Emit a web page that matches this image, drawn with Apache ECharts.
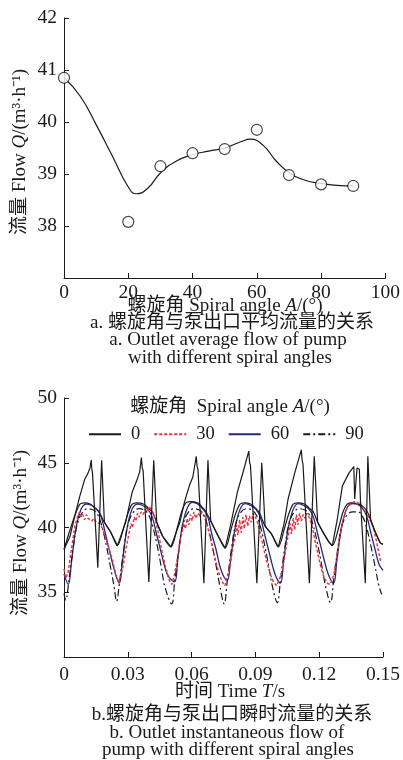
<!DOCTYPE html>
<html>
<head>
<meta charset="utf-8">
<script src="https://cdn.jsdelivr.net/npm/echarts@6/dist/echarts.min.js"></script>
<style>
  html, body { margin: 0; padding: 0; background: #fff; }
  #main { width: 403px; height: 760px; }
</style>
</head>
<body>
<div id="main"></div>
<script>
// (a) average outlet flow vs spiral angle
var spiralAngles = [0, 20, 30, 40, 50, 60, 70, 80, 90];
var avgFlow = [40.85, 38.08, 39.15, 39.4, 39.48, 39.85, 38.98, 38.8, 38.77];
// fitted curve
var fitAngles = [0, 5, 10, 15, 20, 22.5, 26, 30, 35, 40, 45, 50, 55, 58, 62, 66, 70, 75, 80, 85, 90];
var fitFlow = [40.85, 40.5, 39.95, 39.35, 38.75, 38.62, 38.72, 39.02, 39.25, 39.37, 39.44, 39.5, 39.62, 39.67, 39.55, 39.25, 39.03, 38.88, 38.82, 38.78, 38.77];

// (b) instantaneous outlet flow, [time s, flow m3/h]
var flow0 = [
  [0, 38.3], [0.0028, 39.3], [0.0051, 40.9], [0.0074, 42.4], [0.0097, 43.7], [0.0113, 44.2], [0.0122, 44.6], [0.0128, 45.2], [0.0131, 44.5], [0.0134, 44.2], [0.0159, 36.9], [0.0177, 45.2], [0.019, 40.4], [0.0221, 39.6], [0.0251, 38.6],
  [0.029, 40.4], [0.032, 42.7], [0.0344, 43.7], [0.0356, 44.3], [0.0364, 45.4], [0.0368, 44.6], [0.0372, 44.4], [0.0399, 35.8], [0.0422, 45.2], [0.0436, 40.4], [0.0465, 39.3], [0.0503, 38.5],
  [0.0545, 40.4], [0.0567, 42.0], [0.0591, 43.3], [0.0606, 43.9], [0.0622, 45.5], [0.0626, 44.7], [0.063, 44.5], [0.0658, 35.7], [0.0677, 45.2], [0.069, 40.5], [0.072, 39.5], [0.0758, 38.4],
  [0.0785, 40.3], [0.0815, 42.7], [0.0846, 44.5], [0.0869, 45.9], [0.0873, 45.0], [0.0877, 44.8], [0.0907, 35.7], [0.093, 45.0], [0.0946, 40.1], [0.0976, 39.5], [0.1008, 38.5],
  [0.1035, 40.3], [0.1054, 42.2], [0.1085, 44.2], [0.1116, 46.0], [0.112, 45.2], [0.1124, 44.9], [0.1154, 35.7], [0.1177, 45.5], [0.1193, 40.4], [0.1216, 39.7], [0.1245, 38.9], [0.1262, 38.6],
  [0.1285, 40.6], [0.1309, 43.2], [0.134, 44.2], [0.1363, 44.7], [0.1367, 42.2], [0.1378, 44.6], [0.1389, 44.5], [0.1394, 42.2], [0.1417, 35.7], [0.1429, 45.5], [0.1442, 40.6], [0.1465, 39.6], [0.1488, 38.8], [0.15, 38.7]
];
var flow0Upper = [
  [0, 38.3], [0.003, 39.9], [0.0055, 41.1], [0.0075, 41.8], [0.0095, 41.9], [0.0125, 41.8], [0.0145, 41.5], [0.0165, 41.2], [0.019, 40.4], [0.0221, 39.6], [0.0251, 38.6],
  [0.0281, 40.0], [0.0301, 41.1], [0.0321, 41.8], [0.0341, 41.9], [0.0376, 41.8], [0.0396, 41.5], [0.0416, 41.2], [0.0436, 40.4], [0.0465, 39.3], [0.0503, 38.5],
  [0.0533, 40.0], [0.0553, 41.2], [0.0573, 41.9], [0.0593, 42.0], [0.0628, 41.9], [0.0648, 41.6], [0.0668, 41.2], [0.069, 40.5], [0.072, 39.5], [0.0758, 38.4],
  [0.0788, 40.0], [0.0808, 41.1], [0.0828, 41.8], [0.0848, 41.9], [0.088, 41.8], [0.09, 41.5], [0.092, 41.1], [0.0946, 40.1], [0.0976, 39.5], [0.1008, 38.5],
  [0.1038, 40.0], [0.1058, 41.1], [0.1078, 41.8], [0.1098, 41.9], [0.1133, 41.8], [0.1153, 41.5], [0.1173, 41.2], [0.1193, 40.4], [0.1216, 39.7], [0.1245, 38.9], [0.1262, 38.6],
  [0.1292, 40.0], [0.1312, 41.2], [0.1332, 41.8], [0.1352, 41.9], [0.1387, 41.8], [0.1407, 41.6], [0.1427, 41.2], [0.1442, 40.6], [0.1465, 39.6], [0.1488, 38.8], [0.15, 38.7]
];
var flow30 = [
  [0, 36.8], [0.0008, 36.1], [0.0018, 36.4], [0.0032, 38.0], [0.0051, 40.1], [0.0066, 41.0], [0.0074, 41.2], [0.0082, 40.8], [0.0088, 41.0], [0.0097, 40.6], [0.0106, 41.0], [0.0113, 40.7], [0.0122, 40.8], [0.0131, 40.5], [0.014, 40.7], [0.0152, 40.4], [0.0167, 40.3], [0.0182, 39.9], [0.0198, 39.1], [0.0213, 38.3], [0.0228, 37.5], [0.0243, 36.4], [0.0258, 35.7],
  [0.0268, 36.3], [0.028, 37.2], [0.0292, 38.4], [0.0305, 39.5], [0.0315, 40.3], [0.0322, 40.0], [0.033, 40.8], [0.0338, 40.5], [0.0346, 41.1], [0.0354, 40.8], [0.0362, 41.2], [0.0372, 41.0], [0.0382, 41.4], [0.0392, 41.2], [0.0402, 41.6], [0.0412, 41.3], [0.0422, 41.0], [0.0434, 40.3], [0.0448, 39.2], [0.0463, 38.0], [0.0478, 36.9], [0.0493, 36.0], [0.0507, 35.6],
  [0.052, 36.4], [0.0532, 37.5], [0.0544, 38.8], [0.0556, 39.7], [0.0564, 40.3], [0.0571, 39.9], [0.0579, 40.7], [0.0587, 40.2], [0.0595, 41.0], [0.0603, 40.5], [0.0611, 41.2], [0.062, 40.7], [0.063, 41.1], [0.064, 40.9], [0.065, 41.2], [0.066, 40.8], [0.0672, 40.3], [0.0686, 39.3], [0.07, 38.3], [0.0715, 37.3], [0.073, 36.4], [0.0744, 35.8], [0.0756, 35.5],
  [0.077, 36.3], [0.0782, 37.2], [0.0795, 38.5], [0.0805, 39.3], [0.0812, 40.2], [0.0818, 39.4], [0.0826, 40.6], [0.0833, 39.6], [0.0841, 40.8], [0.0848, 39.9], [0.0856, 41.0], [0.0864, 40.1], [0.0872, 40.9], [0.0881, 40.4], [0.089, 41.1], [0.09, 40.8], [0.0912, 40.3], [0.0925, 39.4], [0.094, 38.3], [0.0955, 37.3], [0.097, 36.4], [0.0985, 35.8], [0.1, 35.5],
  [0.1022, 36.4], [0.1035, 37.5], [0.1047, 38.7], [0.1057, 39.6], [0.1064, 40.3], [0.107, 39.5], [0.1078, 40.7], [0.1085, 39.8], [0.1093, 41.0], [0.11, 40.2], [0.1108, 41.1], [0.1116, 40.5], [0.1125, 41.0], [0.1134, 40.7], [0.1143, 41.1], [0.1153, 40.8], [0.1165, 40.2], [0.1178, 39.2], [0.1192, 38.1], [0.1207, 37.0], [0.1222, 36.2], [0.1238, 35.7], [0.1252, 35.6],
  [0.1268, 36.3], [0.128, 37.4], [0.1293, 38.8], [0.1305, 40.0], [0.1317, 40.9], [0.1328, 41.4], [0.134, 41.7], [0.1352, 41.8], [0.1364, 42.0], [0.1376, 41.8], [0.1388, 42.0], [0.14, 41.7], [0.1412, 41.5], [0.1424, 41.1], [0.1438, 40.6], [0.1455, 40.0], [0.147, 38.9], [0.148, 38.1], [0.149, 37.3]
];
var flow60 = [
  [0, 36.4],
  [0.002, 35.6], [0.0035, 37.3], [0.0055, 39.8], [0.008, 41.4], [0.0105, 41.8], [0.013, 41.7], [0.0155, 41.4], [0.0175, 40.8], [0.0195, 39.5], [0.0215, 38.1], [0.0235, 36.8], [0.0248, 36.1],
  [0.026, 35.7], [0.0275, 37.4], [0.0295, 39.8], [0.032, 41.4], [0.0345, 41.8], [0.037, 41.7], [0.0395, 41.4], [0.0415, 40.8], [0.0435, 39.5], [0.0455, 38.2], [0.0475, 36.9], [0.0492, 36.2],
  [0.052, 35.8], [0.0535, 37.5], [0.0555, 40.0], [0.058, 41.5], [0.0605, 41.95], [0.063, 41.8], [0.0655, 41.4], [0.0675, 40.9], [0.0695, 39.5], [0.0715, 38.3], [0.0735, 36.9], [0.0752, 36.2],
  [0.0768, 35.9], [0.0783, 37.4], [0.0803, 39.8], [0.0828, 41.4], [0.0853, 41.85], [0.0878, 41.7], [0.0903, 41.4], [0.0923, 40.8], [0.0943, 39.5], [0.0963, 38.2], [0.0983, 36.9], [0.1, 36.1],
  [0.1018, 35.7], [0.1033, 37.4], [0.1053, 39.8], [0.1078, 41.4], [0.1103, 41.85], [0.1128, 41.7], [0.1153, 41.4], [0.1173, 40.8], [0.1193, 39.5], [0.1213, 38.2], [0.1233, 36.9], [0.125, 36.1],
  [0.1268, 35.7], [0.1283, 37.4], [0.1303, 39.8], [0.1328, 41.4], [0.1353, 41.85], [0.1378, 41.8], [0.1403, 41.5], [0.1423, 40.9], [0.1443, 39.6], [0.1463, 38.3], [0.1483, 37.1], [0.15, 36.7]
];
var flow90 = [
  [0, 34.9],
  [0.0008, 34.4], [0.0023, 35.9], [0.0043, 38.4], [0.0063, 40.3], [0.0088, 41.2], [0.0113, 41.45], [0.0138, 41.35], [0.0158, 41.0], [0.0178, 40.1], [0.0198, 38.7], [0.0218, 37.0], [0.0236, 35.4],
  [0.0247, 34.3], [0.0262, 35.9], [0.0282, 38.4], [0.0302, 40.3], [0.0327, 41.2], [0.0352, 41.45], [0.0377, 41.35], [0.0397, 41.0], [0.0417, 40.1], [0.0437, 38.7], [0.0457, 37.0], [0.0475, 35.4],
  [0.0506, 34.1], [0.0521, 35.9], [0.0541, 38.4], [0.0561, 40.3], [0.0586, 41.2], [0.0611, 41.45], [0.0636, 41.35], [0.0656, 41.0], [0.0676, 40.1], [0.0696, 38.7], [0.0716, 37.0], [0.0734, 35.4],
  [0.0753, 34.1], [0.0768, 35.9], [0.0788, 38.4], [0.0808, 40.3], [0.0833, 41.2], [0.0858, 41.45], [0.0883, 41.35], [0.0903, 41.0], [0.0923, 40.1], [0.0943, 38.7], [0.0963, 37.0], [0.0981, 35.4],
  [0.1003, 34.2], [0.1018, 35.9], [0.1038, 38.4], [0.1058, 40.3], [0.1083, 41.2], [0.1108, 41.45], [0.1133, 41.35], [0.1153, 41.0], [0.1173, 40.1], [0.1193, 38.7], [0.1213, 37.0], [0.1231, 35.4],
  [0.1253, 34.2], [0.1268, 35.9], [0.1288, 38.4], [0.1308, 40.2], [0.1333, 41.0], [0.1358, 41.2], [0.1383, 41.2], [0.1403, 40.9], [0.1423, 40.0], [0.1443, 38.6], [0.1463, 37.0], [0.1481, 35.5], [0.1494, 34.85]
];

var serif = '"Liberation Serif", "Noto Sans CJK SC", serif';
var ink = "#1a1a1a";
var italic = { fontStyle: "italic", fontFamily: serif, fontSize: 19, fill: ink, color: ink };

function valueAxis(grid, min, max, interval, margin, fmt) {
  return {
    type: "value",
    gridIndex: grid,
    min: min,
    max: max,
    interval: interval,
    axisLine: { show: true, lineStyle: { color: ink, width: 1 } },
    axisTick: { show: true, inside: true, length: 5, lineStyle: { color: ink } },
    splitLine: { show: false },
    axisLabel: {
      color: ink,
      fontFamily: serif,
      fontSize: 19.5,
      margin: margin,
      showMinLabel: true,
      showMaxLabel: true,
      formatter: fmt,
    },
  };
}

function hide(v0) {
  return function (v) {
    return v === v0 ? "" : String(v);
  };
}

function zip(xs, ys) {
  var out = [];
  for (var i = 0; i < xs.length; i++) out.push([xs[i], ys[i]]);
  return out;
}

function label(text, x, y, rot) {
  return {
    type: "text",
    x: x,
    y: y,
    rotation: rot || 0,
    style: {
      text: text,
      fill: ink,
      fontFamily: serif,
      fontSize: 19,
      align: "center",
      verticalAlign: "middle",
      rich: { i: italic },
    },
  };
}

var chart = echarts.init(document.getElementById("main"));
var option = {
  animation: false,
  backgroundColor: "#fff",
  grid: [
    { left: 64, right: 15, top: 18, height: 260 },
    { left: 64, right: 15, top: 398, height: 259 },
  ],
  xAxis: [
    valueAxis(0, 0, 100, 20, 5, hide(null)),
    valueAxis(1, 0, 0.15, 0.03, 8, function (v) {
      return v === 0 ? "0" : v.toFixed(2);
    }),
  ],
  yAxis: [
    valueAxis(0, 37, 42, 1, 7, hide(37)),
    valueAxis(1, 30, 50, 5, 7, hide(30)),
  ],
  legend: {
    data: ["0", "30", "60", "90"],
    left: 88,
    top: 425,
    padding: 0,
    itemWidth: 32,
    itemHeight: 14,
    itemGap: 13,
    itemStyle: { opacity: 0 },
    textStyle: { fontFamily: serif, fontSize: 18.5, color: ink, padding: [0, 0, 0, 5] },
  },
  graphic: [
    label("流量 Flow {i|Q}/(m³·h⁻¹)", 20, 152, Math.PI / 2),
    label("螺旋角 Spiral angle {i|A}/(°)", 225, 306),
    label("a. 螺旋角与泵出口平均流量的关系", 232, 323),
    label("a. Outlet average flow of pump", 228, 340),
    label("with different spiral angles", 230, 358),
    label("螺旋角  Spiral angle {i|A}/(°)", 230, 407),
    label("流量 Flow {i|Q}/(m³·h⁻¹)", 21, 533, Math.PI / 2),
    label("时间 Time {i|T}/s", 230, 692),
    label("b.螺旋角与泵出口瞬时流量的关系", 232, 715),
    label("b. Outlet instantaneous flow of", 227, 733),
    label("pump with different spiral angles", 228, 750),
  ],
  series: [
    {
      type: "line",
      xAxisIndex: 0,
      yAxisIndex: 0,
      data: zip(fitAngles, fitFlow),
      smooth: 0.5,
      symbol: "none",
      lineStyle: { color: ink, width: 1.2 },
      z: 2,
    },
    {
      type: "scatter",
      xAxisIndex: 0,
      yAxisIndex: 0,
      data: zip(spiralAngles, avgFlow),
      symbol: "circle",
      symbolSize: 11,
      itemStyle: { color: "#fff", borderColor: ink, borderWidth: 1.2 },
      z: 3,
    },
    {
      name: "0",
      type: "line",
      xAxisIndex: 1,
      yAxisIndex: 1,
      data: flow0Upper,
      smooth: 0.3,
      symbol: "none",
      lineStyle: { color: ink, width: 1.2 },
      itemStyle: { color: ink },
    },
    {
      name: "60",
      type: "line",
      xAxisIndex: 1,
      yAxisIndex: 1,
      data: flow60,
      smooth: 0.4,
      symbol: "none",
      lineStyle: { color: "#232a7d", width: 1.3 },
      itemStyle: { color: "#232a7d" },
    },
    {
      name: "90",
      type: "line",
      xAxisIndex: 1,
      yAxisIndex: 1,
      data: flow90,
      smooth: 0.4,
      symbol: "none",
      lineStyle: { color: ink, width: 1.2, type: [7, 3, 2, 3] },
      itemStyle: { color: ink },
    },
    {
      name: "30",
      type: "line",
      xAxisIndex: 1,
      yAxisIndex: 1,
      data: flow30,
      symbol: "none",
      lineStyle: { color: "#e8303a", width: 1.4, type: [3, 2] },
      itemStyle: { color: "#e8303a" },
    },
    {
      name: "0",
      type: "line",
      xAxisIndex: 1,
      yAxisIndex: 1,
      data: flow0,
      symbol: "none",
      lineStyle: { color: ink, width: 1.2 },
      itemStyle: { color: ink },
    },
  ],
};
chart.setOption(option);
</script>
</body>
</html>
